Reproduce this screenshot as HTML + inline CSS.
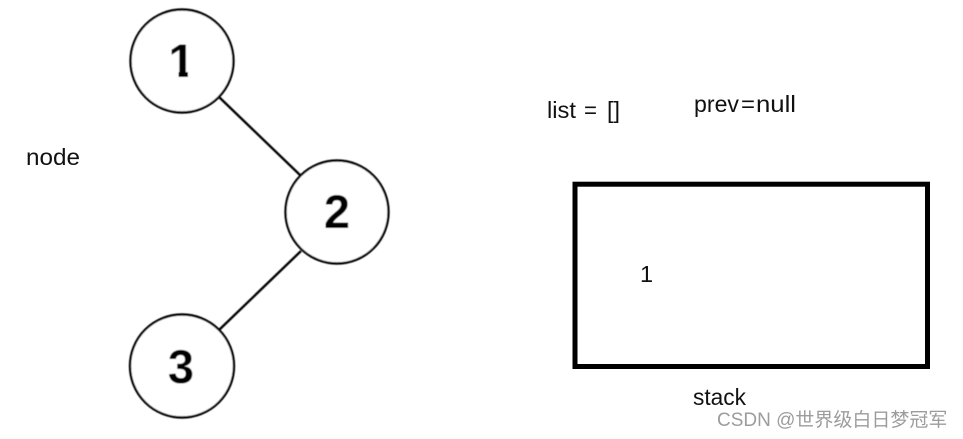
<!DOCTYPE html>
<html>
<head>
<meta charset="utf-8">
<style>
html,body{margin:0;padding:0;background:#fff;}
body{width:963px;height:439px;overflow:hidden;}
svg{display:block;}
</style>
</head>
<body>
<svg width="963" height="439" viewBox="0 0 963 439" xmlns="http://www.w3.org/2000/svg">
<defs><filter id="b" x="-5%" y="-5%" width="110%" height="110%"><feGaussianBlur stdDeviation="0.4"/></filter></defs>
<rect width="963" height="439" fill="#fff"/>
<g filter="url(#b)">
<line x1="219" y1="97" x2="300" y2="175" stroke="#000" stroke-width="2.4"/>
<line x1="301" y1="251" x2="219" y2="330" stroke="#000" stroke-width="2.4"/>
<ellipse cx="182" cy="61" rx="51.5" ry="51.5" fill="#fff" stroke="#000" stroke-width="2.4"/>
<ellipse cx="337" cy="212" rx="51.5" ry="51.5" fill="#fff" stroke="#000" stroke-width="2.4"/>
<ellipse cx="182" cy="366" rx="52" ry="51.5" fill="#fff" stroke="#000" stroke-width="2.4"/>
<g font-family="'Liberation Sans',sans-serif" font-weight="bold" font-size="47" fill="#000" text-anchor="middle">
<text x="181.5" y="77">1</text>
<text x="337" y="228">2</text>
<text x="181" y="383">3</text>
</g>
<rect x="166" y="70.5" width="12.5" height="8" fill="#fff"/>
<rect x="188" y="70.5" width="10" height="8" fill="#fff"/>
</g>
<rect x="575" y="184.2" width="352.5" height="182.3" fill="none" stroke="#000" stroke-width="5"/>
<g font-family="'Liberation Sans','DejaVu Sans',sans-serif" font-size="23.5" fill="#111">
<text x="26" y="165" textLength="54" lengthAdjust="spacingAndGlyphs">node</text>
<text x="547" y="118" textLength="29" lengthAdjust="spacingAndGlyphs">list</text>
<text x="584" y="118" textLength="13" lengthAdjust="spacingAndGlyphs">=</text>
<text x="607" y="118" textLength="13" lengthAdjust="spacingAndGlyphs">[]</text>
<text x="694" y="112" textLength="45" lengthAdjust="spacingAndGlyphs">prev</text>
<text x="741" y="112" textLength="14" lengthAdjust="spacingAndGlyphs">=</text>
<text x="756" y="112" textLength="40" lengthAdjust="spacingAndGlyphs">null</text>
<text x="640" y="282">1</text>
<text x="693" y="405" textLength="53" lengthAdjust="spacingAndGlyphs">stack</text>
</g>
<text x="717" y="426" font-family="'Liberation Sans','Noto Sans CJK SC',sans-serif" font-size="19" fill="#9c9c9c">CSDN @世界级白日梦冠军</text>
</svg>
</body>
</html>
